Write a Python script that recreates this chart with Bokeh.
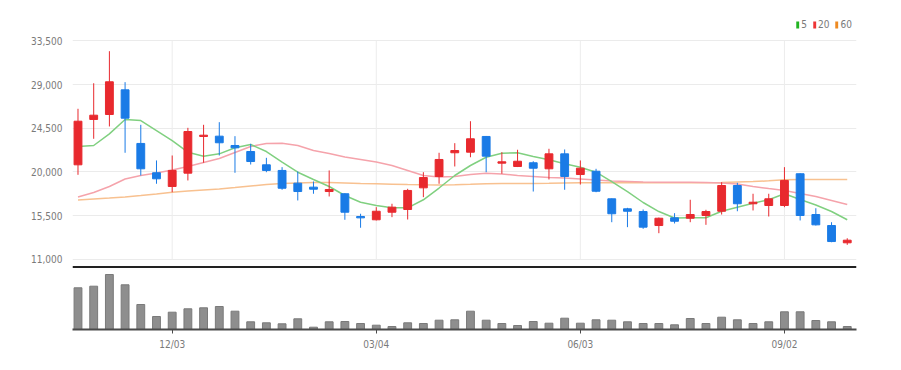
from bokeh.plotting import figure
from bokeh.models import (ColumnDataSource, Range1d, FixedTicker, NumeralTickFormatter,
                          Span, Legend, LegendItem)
from bokeh.embed import file_html
from bokeh.resources import INLINE

# ---------------- data (weekly candles) ----------------
opens = [20730, 25400, 25910, 28450, 22930, 19910, 18500, 19870, 23650, 23680,
         22720, 22100, 20730, 20150, 18840, 18430, 17980, 17750, 15410, 15070,
         15850, 16130, 18360, 19530, 21970, 22030, 23650, 20900, 20560, 20940,
         20320, 21860, 19730, 20070, 17230, 16200, 15920, 14480, 15270, 15230,
         15510, 15950, 18600, 16720, 16540, 16540, 19810, 15610, 14480, 12700]
highs = [26500, 29130, 32430, 29240, 24850, 21180, 21690, 24540, 24850, 25120,
         23680, 22890, 21450, 20490, 20040, 19010, 20150, 17800, 15690, 16370,
         16720, 18260, 19970, 21970, 22960, 25220, 23700, 22030, 22280, 21100,
         22380, 22310, 21180, 20320, 17260, 16300, 16130, 15300, 15750, 17130,
         16100, 18940, 18880, 17750, 17750, 20490, 19850, 16260, 14820, 13170]
lows = [19700, 23410, 24680, 21970, 19630, 18780, 17910, 19120, 20940, 21690,
        19910, 20760, 19970, 18160, 17060, 17750, 17470, 15070, 14250, 15000,
        15340, 15100, 17400, 18780, 20560, 21510, 19970, 19810, 20500, 17980,
        19220, 18160, 18700, 17910, 14820, 14310, 14140, 13690, 14690, 14820,
        14550, 15610, 15950, 16030, 15410, 16370, 15000, 14480, 12760, 12490]
closes = [25220, 25840, 29280, 25530, 20320, 19290, 20150, 24160, 23780, 23000,
          22480, 21070, 20150, 18320, 17980, 18220, 18190, 15850, 15270, 15950,
          16370, 18090, 19420, 21280, 22200, 23410, 21620, 21040, 21100, 20380,
          21860, 19530, 20380, 18010, 15690, 15950, 14310, 15230, 14920, 15610,
          15920, 18600, 16720, 16880, 17230, 19120, 15510, 14550, 12830, 12970]
volumes = [834, 866, 1100, 894, 500, 260, 346, 414, 434, 460,
           366, 154, 134, 114, 214, 46, 154, 160, 120, 86,
           60, 134, 120, 186, 194, 366, 186, 120, 80, 160,
           126, 226, 126, 194, 186, 154, 120, 120, 94, 220,
           120, 246, 194, 120, 154, 354, 354, 180, 154, 60]
ma5 = [22620, 22720, 23920, 25400, 25290, 24260, 23230, 22030, 21620, 21860,
       22480, 22820, 22100, 21000, 19970, 19220, 18500, 17570, 16880, 16540,
       16300, 16300, 17130, 18340, 19630, 20660, 21510, 21930, 21970, 21590,
       21250, 20830, 20480, 19970, 19010, 17980, 16850, 15920, 15250, 15280,
       15280, 15950, 16370, 16780, 17130, 17750, 17160, 16590, 15920, 15070]
ma20 = [17420, 17880, 18500, 19270, 19630, 19890, 20200, 20560, 20970, 21380,
        22000, 22620, 22930, 22960, 22720, 22200, 21900, 21540, 21280, 21020,
        20660, 20150, 19630, 19480, 19530, 19730, 19870, 19790, 19630, 19530,
        19420, 19370, 19270, 19170, 19060, 19010, 18960, 18940, 18940, 18940,
        18910, 18860, 18760, 18500, 18290, 18090, 17780, 17470, 17060, 16640]
ma60 = [17110, 17210, 17310, 17420, 17570, 17730, 17910, 18030, 18140, 18240,
        18390, 18550, 18700, 18810, 18860, 18910, 18910, 18860, 18810, 18780,
        18740, 18700, 18670, 18650, 18670, 18720, 18780, 18810, 18810, 18810,
        18830, 18860, 18880, 18880, 18880, 18880, 18880, 18880, 18880, 18880,
        18880, 18910, 18960, 19010, 19080, 19190, 19220, 19220, 19220, 19220]

tick_idx = [6, 19, 32, 45]
tick_labels = ["12/03", "03/04", "06/03", "09/02"]
price_ticks = [11000, 15500, 20000, 24500, 29000, 33500]
legend_labels = ["5", "20", "60"]

# ---------------- styling ----------------
FONT = "DejaVu Sans Condensed, Roboto, sans-serif"
UP = "#e8292e"
DOWN = "#1a7be6"
LABEL_COLOR = "#7a7a7a"

x = list(range(len(opens)))
colors = [UP if c >= o else DOWN for o, c in zip(opens, closes)]
src = ColumnDataSource(dict(
    x=x, open=opens, close=closes, high=highs, low=lows, vol=volumes,
    top=[max(o, c) for o, c in zip(opens, closes)],
    bottom=[min(o, c) for o, c in zip(opens, closes)],
    color=colors, ma5=ma5, ma20=ma20, ma60=ma60,
))

p = figure(frame_width=784, frame_height=314,
           x_range=Range1d(-0.35, 49.59), y_range=Range1d(3773, 36105),
           output_backend="svg", toolbar_location=None,
           min_border_left=72, min_border_right=14, min_border_top=15,
           min_border_bottom=30)
p.outline_line_color = None
p.background_fill_color = "white"
p.extra_y_ranges = {"vol": Range1d(0, 6280)}

# grids
p.xgrid.visible = False
p.ygrid.ticker = FixedTicker(ticks=price_ticks)
p.ygrid.grid_line_color = "#ebebeb"
p.ygrid.grid_line_width = 1

# vertical grid lines limited to the price panel
p.segment(x0=tick_idx, x1=tick_idx, y0=[price_ticks[0]] * len(tick_idx),
          y1=[price_ticks[-1]] * len(tick_idx), line_color="#ececec", line_width=1)

# y axis
yax = p.yaxis[0]
yax.ticker = FixedTicker(ticks=price_ticks)
yax.formatter = NumeralTickFormatter(format="0,0")
yax.axis_line_color = None
yax.major_tick_line_color = None
yax.minor_tick_line_color = None
yax.major_label_standoff = 4
yax.major_label_text_font = FONT
yax.major_label_text_font_size = "10px"
yax.major_label_text_color = LABEL_COLOR

# x axis
xax = p.xaxis[0]
xax.ticker = FixedTicker(ticks=tick_idx)
xax.major_label_overrides = {i: l for i, l in zip(tick_idx, tick_labels)}
xax.axis_line_color = "#4a4a4a"
xax.axis_line_width = 2
xax.major_tick_line_color = "#4a4a4a"
xax.major_tick_in = 0
xax.major_tick_out = 4
xax.minor_tick_line_color = None
xax.major_label_standoff = 5
xax.major_label_text_font = FONT
xax.major_label_text_font_size = "10px"
xax.major_label_text_color = LABEL_COLOR

# separator between price and volume panels
p.add_layout(Span(location=10209, dimension="width", line_color="#222222", line_width=2))

# volume
p.vbar(x="x", top="vol", bottom=0, width=0.5, source=src, y_range_name="vol",
       fill_color="#8e8e8e", line_color="#7a7a7a", line_width=1)

# moving averages
p.line("x", "ma60", source=src, line_color="#f8c190", line_width=1.5)
p.line("x", "ma20", source=src, line_color="#f5a3ab", line_width=1.5)
p.line("x", "ma5", source=src, line_color="#80d080", line_width=1.5)

# candles
p.segment(x0="x", x1="x", y0="high", y1="low", source=src, line_color="color", line_width=1)
p.vbar(x="x", top="top", bottom="bottom", width=0.5, source=src,
       fill_color="color", line_color="color", line_width=1)

# legend swatches: zero-height bars (invisible on the chart) that give the legend its colour
leg_colors = ["#22b422", "#ee3535", "#ee8a22"]
items = []
for lab, col, key in zip(legend_labels, leg_colors, ["ma5", "ma20", "ma60"]):
    r = p.vbar(x="x", top=key, bottom=key, width=0.5, source=src,
               fill_color=col, line_color=None)
    items.append(LegendItem(label=lab, renderers=[r]))
legend = Legend(items=items, orientation="horizontal", location="top_right",
                label_text_font=FONT, label_text_font_size="10px",
                label_text_color=LABEL_COLOR, glyph_width=4, glyph_height=9,
                label_height=9, label_width=0, label_standoff=2, spacing=5,
                padding=0, margin=4, border_line_color=None,
                background_fill_alpha=0)
p.add_layout(legend)

open("out.html", "w").write(file_html(p, INLINE))
